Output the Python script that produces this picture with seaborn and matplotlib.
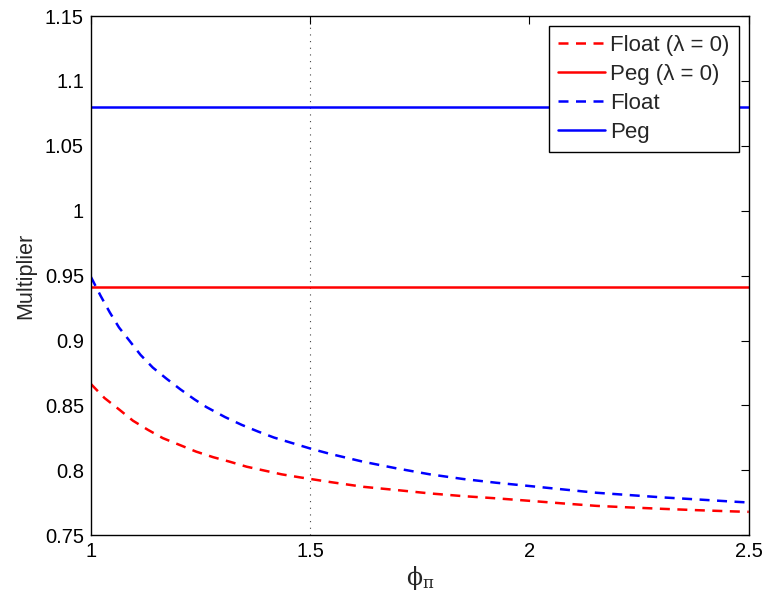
import pandas as pd
import matplotlib
matplotlib.use("Agg")
import matplotlib.pyplot as plt
import seaborn as sns

# Multiplier under a float as a function of the inflation response phi_pi
float_x = [1.000, 1.022, 1.043, 1.064, 1.088, 1.113, 1.141, 1.172, 1.204, 1.236,
           1.263, 1.306, 1.344, 1.381, 1.417, 1.455, 1.503, 1.545, 1.621, 1.697,
           1.773, 1.849, 1.925, 2.000, 2.076, 2.153, 2.229, 2.305, 2.381, 2.468, 2.500]
float_y = [0.9490, 0.9345, 0.9217, 0.9101, 0.8998, 0.8890, 0.8792, 0.8707, 0.8624, 0.8547,
           0.8488, 0.8410, 0.8350, 0.8299, 0.8253, 0.8214, 0.8165, 0.8127, 0.8066, 0.8015,
           0.7969, 0.7933, 0.7904, 0.7879, 0.7853, 0.7827, 0.7809, 0.7791, 0.7776, 0.7758, 0.7752]

# Same experiment with lambda = 0
float0_x = [1.000, 1.031, 1.065, 1.096, 1.130, 1.164, 1.202, 1.240, 1.279, 1.317,
            1.355, 1.397, 1.435, 1.476, 1.507, 1.545, 1.621, 1.697, 1.773, 1.849,
            1.925, 2.000, 2.076, 2.153, 2.229, 2.305, 2.381, 2.468, 2.500]
float0_y = [0.8665, 0.8557, 0.8467, 0.8382, 0.8312, 0.8248, 0.8196, 0.8144, 0.8101, 0.8066,
            0.8028, 0.7997, 0.7969, 0.7946, 0.7930, 0.7910, 0.7873, 0.7848, 0.7822, 0.7801,
            0.7784, 0.7765, 0.7745, 0.7726, 0.7714, 0.7703, 0.7693, 0.7683, 0.7680]

# Under a peg the multiplier does not depend on phi_pi
peg_x = [1.0, 2.5]
peg0_value = 0.941
peg_value = 1.080

series_names = ["Float (\u03bb = 0)", "Peg (\u03bb = 0)", "Float", "Peg"]

df = pd.concat([
    pd.DataFrame({"phi": float0_x, "mult": float0_y, "case": series_names[0]}),
    pd.DataFrame({"phi": peg_x, "mult": [peg0_value] * len(peg_x), "case": series_names[1]}),
    pd.DataFrame({"phi": float_x, "mult": float_y, "case": series_names[2]}),
    pd.DataFrame({"phi": peg_x, "mult": [peg_value] * len(peg_x), "case": series_names[3]}),
], ignore_index=True)

sns.set_style("white")
plt.rcParams["font.family"] = ["Liberation Sans", "DejaVu Sans"]
plt.rcParams["mathtext.fontset"] = "dejavuserif"
plt.rcParams["mathtext.default"] = "rm"

fig = plt.figure(figsize=(7.64, 5.96), dpi=100)
ax = fig.add_axes([0.119, 0.102, 0.861, 0.871])

palette = {series_names[0]: "#ff0000", series_names[1]: "#ff0000",
           series_names[2]: "#0000ff", series_names[3]: "#0000ff"}
dashes = {series_names[0]: (4, 3), series_names[1]: "",
          series_names[2]: (4, 3), series_names[3]: ""}

sns.lineplot(data=df, x="phi", y="mult", hue="case", style="case",
             palette=palette, dashes=dashes, hue_order=series_names,
             style_order=series_names, linewidth=1.8, ax=ax, estimator=None,
             sort=False)

ax.axvline(1.5, color="#444444", linestyle=(0, (1, 5)), linewidth=0.8, zorder=0)

ax.set_xlim(1, 2.5)
ax.set_ylim(0.75, 1.15)
ax.set_xticks([1, 1.5, 2, 2.5])
ax.set_xticklabels(["1", "1.5", "2", "2.5"])
ax.set_yticks([0.75, 0.8, 0.85, 0.9, 0.95, 1.0, 1.05, 1.1, 1.15])
ax.set_yticklabels(["0.75", "0.8", "0.85", "0.9", "0.95", "1", "1.05", "1.1", "1.15"])
ax.tick_params(direction="in", length=6, width=0.8, top=True, right=True,
               labelsize=14.5, colors="black", pad=5)
for sp in ax.spines.values():
    sp.set_color("black")
    sp.set_linewidth(1.0)

ax.set_xlabel(r"$\phi_\pi$", fontsize=17, labelpad=2)
ax.set_ylabel("Multiplier", fontsize=15.5, labelpad=6)

leg = ax.legend(loc="upper right", fontsize=16, frameon=True, fancybox=False,
                borderpad=0.4, labelspacing=0.36, handlelength=2.1,
                handletextpad=0.25, borderaxespad=0.45)
leg.get_frame().set_edgecolor("black")
leg.get_frame().set_linewidth(1.0)
leg.get_frame().set_alpha(1)

fig.savefig("out.png", dpi=100)
